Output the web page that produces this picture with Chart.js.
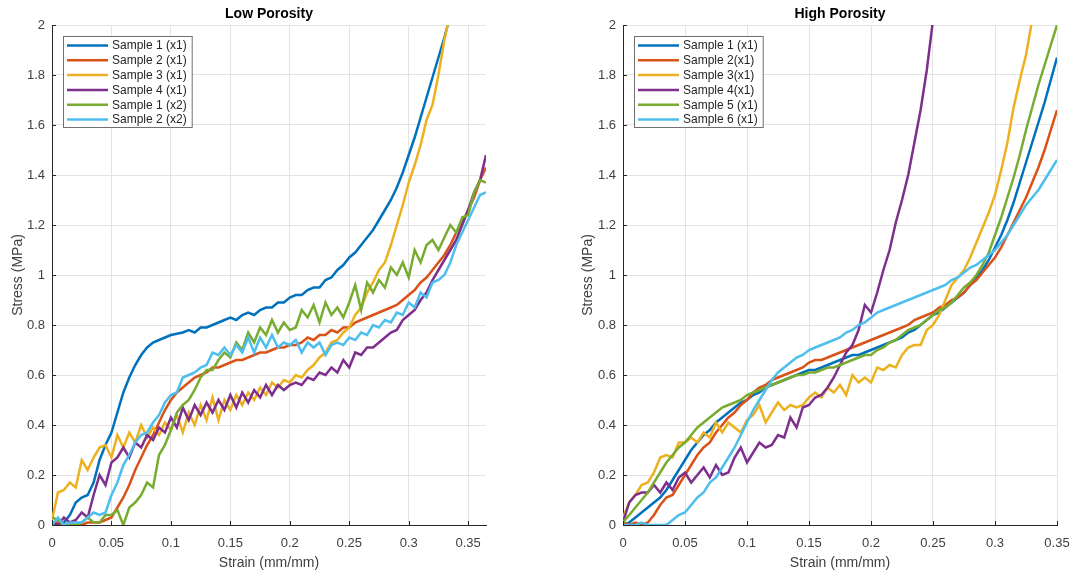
<!DOCTYPE html>
<html>
<head>
<meta charset="utf-8">
<script src="https://cdn.jsdelivr.net/npm/chart.js@4.4.1/dist/chart.umd.min.js"></script>
<style>
  body { margin: 0; background: #fff; }
  #wrap { position: relative; width: 1073px; height: 572px; }
  canvas { position: absolute; top: 0; }
</style>
</head>
<body>
<div id="wrap">
  <canvas id="lowChart" width="540" height="572" style="left:0px"></canvas>
  <canvas id="highChart" width="533" height="572" style="left:540px"></canvas>
</div>
<script>
// Strain values (mm/mm) shared by the series of each panel
const lowStrain = [0, 0.005, 0.01, 0.015, 0.02, 0.025, 0.03, 0.035, 0.04, 0.045,
  0.05, 0.055, 0.06, 0.065, 0.07, 0.075, 0.08, 0.085, 0.09, 0.095,
  0.1, 0.105, 0.11, 0.115, 0.12, 0.125, 0.13, 0.135, 0.14, 0.145,
  0.15, 0.155, 0.16, 0.165, 0.17, 0.175, 0.18, 0.185, 0.19, 0.195,
  0.2, 0.205, 0.21, 0.215, 0.22, 0.225, 0.23, 0.235, 0.24, 0.245,
  0.25, 0.255, 0.26, 0.265, 0.27, 0.275, 0.28, 0.285, 0.29, 0.295,
  0.3, 0.305, 0.31, 0.315, 0.32, 0.325, 0.33, 0.335, 0.34, 0.345,
  0.35, 0.355, 0.36, 0.365];
const highStrain = [0, 0.005, 0.01, 0.015, 0.02, 0.025, 0.03, 0.035, 0.04, 0.045,
  0.05, 0.055, 0.06, 0.065, 0.07, 0.075, 0.08, 0.085, 0.09, 0.095,
  0.1, 0.105, 0.11, 0.115, 0.12, 0.125, 0.13, 0.135, 0.14, 0.145,
  0.15, 0.155, 0.16, 0.165, 0.17, 0.175, 0.18, 0.185, 0.19, 0.195,
  0.2, 0.205, 0.21, 0.215, 0.22, 0.225, 0.23, 0.235, 0.24, 0.245,
  0.25, 0.255, 0.26, 0.265, 0.27, 0.275, 0.28, 0.285, 0.29, 0.295,
  0.3, 0.305, 0.31, 0.315, 0.32, 0.325, 0.33, 0.335, 0.34, 0.345,
  0.35];

// Stress (MPa) — Low porosity
const lowS1x1 = [0.00, 0.00, 0.01, 0.04, 0.09, 0.11, 0.12, 0.17, 0.26, 0.32,
  0.37, 0.45, 0.53, 0.59, 0.64, 0.68, 0.71, 0.73, 0.74, 0.75,
  0.76, 0.765, 0.77, 0.78, 0.77, 0.79, 0.79, 0.80, 0.81, 0.82,
  0.83, 0.82, 0.84, 0.85, 0.84, 0.86, 0.87, 0.87, 0.89, 0.89,
  0.91, 0.92, 0.92, 0.94, 0.95, 0.95, 0.98, 0.99, 1.02, 1.04,
  1.07, 1.09, 1.12, 1.15, 1.18, 1.22, 1.26, 1.30, 1.35, 1.41,
  1.48, 1.55, 1.63, 1.71, 1.79, 1.87, 1.95, 2.04];
const lowS2x1 = [0.01, 0.01, 0.00, 0.01, 0.01, 0.00, 0.01, 0.01, 0.01, 0.02,
  0.03, 0.07, 0.11, 0.16, 0.22, 0.27, 0.32, 0.36, 0.41, 0.46,
  0.50, 0.53, 0.55, 0.57, 0.59, 0.60, 0.61, 0.63, 0.63, 0.64,
  0.65, 0.66, 0.66, 0.67, 0.68, 0.69, 0.69, 0.70, 0.71, 0.71,
  0.72, 0.72, 0.73, 0.75, 0.74, 0.76, 0.76, 0.78, 0.77, 0.79,
  0.79, 0.81, 0.82, 0.83, 0.84, 0.85, 0.86, 0.87, 0.88, 0.90,
  0.92, 0.94, 0.97, 0.99, 1.02, 1.05, 1.08, 1.12, 1.17, 1.21,
  1.26, 1.31, 1.38, 1.43];
const lowS3x1 = [0.02, 0.13, 0.14, 0.17, 0.15, 0.26, 0.22, 0.27, 0.31, 0.32,
  0.27, 0.36, 0.31, 0.37, 0.33, 0.40, 0.35, 0.39, 0.36, 0.41,
  0.38, 0.44, 0.37, 0.45, 0.40, 0.48, 0.42, 0.51, 0.42, 0.50,
  0.46, 0.52, 0.48, 0.53, 0.50, 0.55, 0.52, 0.57, 0.55, 0.58,
  0.57, 0.60, 0.59, 0.62, 0.64, 0.67, 0.69, 0.73, 0.74, 0.77,
  0.79, 0.84, 0.87, 0.93, 0.97, 1.02, 1.05, 1.12, 1.20, 1.28,
  1.37, 1.44, 1.52, 1.62, 1.68, 1.80, 1.94, 2.05];
const lowS4x1 = [0.01, 0.00, 0.03, 0.01, 0.02, 0.05, 0.03, 0.12, 0.20, 0.16,
  0.25, 0.27, 0.31, 0.27, 0.33, 0.31, 0.36, 0.34, 0.39, 0.37,
  0.43, 0.39, 0.47, 0.42, 0.48, 0.44, 0.49, 0.45, 0.50, 0.46,
  0.52, 0.47, 0.53, 0.49, 0.54, 0.51, 0.56, 0.52, 0.56, 0.54,
  0.56, 0.57, 0.56, 0.59, 0.58, 0.61, 0.60, 0.63, 0.61, 0.66,
  0.63, 0.69, 0.68, 0.71, 0.71, 0.73, 0.75, 0.77, 0.78, 0.82,
  0.84, 0.86, 0.90, 0.93, 0.98, 1.02, 1.06, 1.10, 1.14, 1.20,
  1.26, 1.33, 1.38, 1.48];
const lowS1x2 = [0.03, 0.02, 0.00, 0.00, 0.00, 0.01, 0.03, 0.01, 0.01, 0.04,
  0.04, 0.06, 0.00, 0.07, 0.09, 0.12, 0.17, 0.15, 0.28, 0.32,
  0.38, 0.45, 0.48, 0.50, 0.54, 0.59, 0.62, 0.62, 0.66, 0.69,
  0.67, 0.73, 0.70, 0.77, 0.73, 0.79, 0.76, 0.82, 0.77, 0.81,
  0.78, 0.79, 0.86, 0.83, 0.88, 0.81, 0.89, 0.84, 0.87, 0.83,
  0.89, 0.96, 0.86, 0.97, 0.93, 0.98, 0.95, 1.03, 1.00, 1.05,
  0.99, 1.10, 1.05, 1.12, 1.14, 1.10, 1.15, 1.20, 1.17, 1.23,
  1.24, 1.33, 1.38, 1.37];
const lowS2x2 = [0.00, 0.03, 0.00, 0.01, 0.01, 0.01, 0.03, 0.05, 0.04, 0.05,
  0.12, 0.17, 0.24, 0.28, 0.33, 0.36, 0.37, 0.41, 0.44, 0.49,
  0.52, 0.53, 0.59, 0.60, 0.61, 0.63, 0.64, 0.69, 0.68, 0.71,
  0.68, 0.72, 0.69, 0.75, 0.69, 0.75, 0.71, 0.76, 0.71, 0.73,
  0.72, 0.74, 0.69, 0.73, 0.71, 0.73, 0.68, 0.72, 0.73, 0.72,
  0.75, 0.74, 0.77, 0.76, 0.80, 0.79, 0.82, 0.81, 0.85, 0.84,
  0.89, 0.87, 0.93, 0.91, 0.97, 0.98, 1.00, 1.05, 1.12, 1.17,
  1.22, 1.27, 1.32, 1.33];

// Stress (MPa) — High porosity
const highS1 = [0.00, 0.01, 0.03, 0.05, 0.07, 0.09, 0.11, 0.14, 0.18, 0.22,
  0.26, 0.30, 0.33, 0.36, 0.38, 0.41, 0.43, 0.45, 0.47, 0.49,
  0.50, 0.52, 0.53, 0.55, 0.56, 0.57, 0.58, 0.59, 0.60, 0.61,
  0.62, 0.62, 0.63, 0.64, 0.65, 0.66, 0.67, 0.68, 0.68, 0.69,
  0.70, 0.71, 0.72, 0.73, 0.74, 0.75, 0.77, 0.78, 0.80, 0.82,
  0.84, 0.85, 0.87, 0.89, 0.91, 0.93, 0.96, 0.99, 1.02, 1.06,
  1.11, 1.16, 1.22, 1.29, 1.37, 1.45, 1.53, 1.61, 1.69, 1.78,
  1.87];
const highS2 = [0.01, 0.00, 0.01, 0.00, 0.01, 0.04, 0.08, 0.11, 0.12, 0.16,
  0.20, 0.24, 0.28, 0.31, 0.33, 0.37, 0.40, 0.43, 0.45, 0.48,
  0.50, 0.53, 0.55, 0.56, 0.58, 0.59, 0.60, 0.61, 0.62, 0.63,
  0.65, 0.66, 0.66, 0.67, 0.68, 0.69, 0.70, 0.71, 0.72, 0.73,
  0.74, 0.75, 0.76, 0.77, 0.78, 0.79, 0.80, 0.82, 0.83, 0.84,
  0.85, 0.87, 0.88, 0.90, 0.91, 0.93, 0.96, 0.98, 1.01, 1.04,
  1.07, 1.11, 1.16, 1.21, 1.26, 1.31, 1.37, 1.43, 1.50, 1.58,
  1.66];
const highS3 = [0.03, 0.09, 0.12, 0.16, 0.17, 0.21, 0.27, 0.28, 0.27, 0.33,
  0.33, 0.35, 0.33, 0.37, 0.35, 0.41, 0.37, 0.41, 0.39, 0.37,
  0.42, 0.44, 0.48, 0.41, 0.45, 0.49, 0.46, 0.48, 0.47, 0.48,
  0.51, 0.53, 0.51, 0.55, 0.53, 0.56, 0.52, 0.60, 0.57, 0.59,
  0.57, 0.63, 0.62, 0.64, 0.63, 0.68, 0.71, 0.72, 0.72, 0.78,
  0.80, 0.84, 0.90, 0.96, 0.99, 1.02, 1.07, 1.13, 1.19, 1.25,
  1.32, 1.42, 1.53, 1.67, 1.78, 1.88, 2.02];
const highS4 = [0.01, 0.09, 0.12, 0.13, 0.13, 0.16, 0.13, 0.17, 0.14, 0.19,
  0.21, 0.17, 0.20, 0.23, 0.19, 0.24, 0.20, 0.21, 0.27, 0.31,
  0.25, 0.29, 0.33, 0.31, 0.32, 0.36, 0.35, 0.43, 0.39, 0.47,
  0.48, 0.51, 0.52, 0.55, 0.59, 0.64, 0.69, 0.72, 0.78, 0.88,
  0.85, 0.93, 1.02, 1.10, 1.21, 1.30, 1.40, 1.53, 1.66, 1.82,
  2.02];
const highS5 = [0.01, 0.04, 0.07, 0.10, 0.13, 0.17, 0.21, 0.25, 0.28, 0.31,
  0.33, 0.36, 0.39, 0.41, 0.43, 0.45, 0.47, 0.48, 0.49, 0.50,
  0.52, 0.53, 0.54, 0.55, 0.56, 0.57, 0.58, 0.59, 0.60, 0.60,
  0.61, 0.61, 0.62, 0.63, 0.63, 0.64, 0.65, 0.66, 0.67, 0.68,
  0.68, 0.70, 0.71, 0.73, 0.74, 0.76, 0.78, 0.79, 0.80, 0.82,
  0.84, 0.86, 0.87, 0.89, 0.92, 0.95, 0.97, 1.00, 1.04, 1.09,
  1.16, 1.23, 1.31, 1.39, 1.48, 1.58, 1.67, 1.76, 1.84, 1.92,
  2.00];
const highS6 = [0.00, 0.00, 0.00, 0.01, 0.00, 0.00, 0.00, 0.00, 0.02, 0.04,
  0.05, 0.08, 0.11, 0.13, 0.17, 0.19, 0.23, 0.27, 0.31, 0.36,
  0.41, 0.46, 0.50, 0.54, 0.58, 0.61, 0.63, 0.65, 0.67, 0.68,
  0.70, 0.71, 0.72, 0.73, 0.74, 0.75, 0.77, 0.78, 0.80, 0.81,
  0.83, 0.85, 0.86, 0.87, 0.88, 0.89, 0.90, 0.91, 0.92, 0.93,
  0.94, 0.95, 0.96, 0.98, 0.99, 1.01, 1.03, 1.04, 1.06, 1.08,
  1.10, 1.13, 1.16, 1.20, 1.24, 1.28, 1.31, 1.34, 1.38, 1.42,
  1.46];

const lowLabels = ['Sample 1 (x1)', 'Sample 2 (x1)', 'Sample 3 (x1)', 'Sample 4 (x1)', 'Sample 1 (x2)', 'Sample 2 (x2)'];
const highLabels = ['Sample 1 (x1)', 'Sample 2(x1)', 'Sample 3(x1)', 'Sample 4(x1)', 'Sample 5 (x1)', 'Sample 6 (x1)'];
const colores = ['#0072BD', '#D95319', '#EDB120', '#7E2F8E', '#77AC30', '#4DBEEE'];

const FONTE = '"Liberation Sans", Arial, Helvetica, sans-serif';

// titulo centrado sobre a area do grafico
const tituloPainel = {
  id: 'tituloPainel',
  afterDraw(chart, args, opts) {
    const { ctx, chartArea } = chart;
    ctx.save();
    ctx.font = 'bold 14px ' + FONTE;
    ctx.fillStyle = '#000';
    ctx.textAlign = 'center';
    ctx.textBaseline = 'middle';
    ctx.fillText(opts.text, (chartArea.left + chartArea.right) / 2, 14);
    ctx.restore();
  }
};

// marcas de escala para dentro, como no MATLAB
const marcasInternas = {
  id: 'marcasInternas',
  afterDraw(chart) {
    const { ctx, chartArea, scales } = chart;
    ctx.save();
    ctx.strokeStyle = '#262626';
    ctx.lineWidth = 1;
    ctx.beginPath();
    scales.x.ticks.forEach(t => {
      const px = Math.round(scales.x.getPixelForValue(t.value)) + 0.5;
      ctx.moveTo(px, chartArea.bottom);
      ctx.lineTo(px, chartArea.bottom - 4);
    });
    scales.y.ticks.forEach(t => {
      const py = Math.round(scales.y.getPixelForValue(t.value)) + 0.5;
      ctx.moveTo(chartArea.left, py);
      ctx.lineTo(chartArea.left + 4, py);
    });
    ctx.stroke();
    ctx.restore();
  }
};

// legenda em caixa no canto superior esquerdo (estilo MATLAB)
const legendaCaixa = {
  id: 'legendaCaixa',
  afterDatasetsDraw(chart) {
    const { ctx, chartArea } = chart;
    const sets = chart.data.datasets;
    ctx.save();
    ctx.font = '12px ' + FONTE;
    const larguraTexto = Math.max(...sets.map(d => ctx.measureText(d.label).width));
    const x0 = Math.round(chartArea.left + 11), y0 = Math.round(chartArea.top + 11);
    const w = 49 + larguraTexto + 5, h = 91;
    ctx.fillStyle = '#fff';
    ctx.fillRect(x0, y0, w, h);
    ctx.strokeStyle = '#707070';
    ctx.lineWidth = 1;
    ctx.strokeRect(x0 + 0.5, y0 + 0.5, w, h);
    sets.forEach((d, i) => {
      const y = y0 + 9.5 + i * 14.8;
      ctx.strokeStyle = d.borderColor;
      ctx.lineWidth = 2.5;
      ctx.beginPath();
      ctx.moveTo(x0 + 4, y);
      ctx.lineTo(x0 + 45, y);
      ctx.stroke();
      ctx.fillStyle = '#262626';
      ctx.textBaseline = 'middle';
      ctx.fillText(d.label, x0 + 49, y + 0.5);
    });
    ctx.restore();
  }
};

function montarSeries(strain, series, labels) {
  return series.map((ys, i) => ({
    label: labels[i],
    data: ys.map((y, k) => ({ x: strain[k], y })),
    borderColor: colores[i],
    backgroundColor: colores[i],
    borderWidth: 2.5,
    pointRadius: 0,
    tension: 0,
    order: series.length - i
  }));
}

function formatarTick(v) {
  return String(Number(v.toFixed(2)));
}

function montarOpcoes(titulo, xMax, larguraY, padTituloY, padDireita) {
  return {
    responsive: false,
    animation: false,
    layout: { padding: { top: 25, right: padDireita, bottom: 0, left: 0 } },
    plugins: {
      legend: { display: false },
      tooltip: { enabled: false },
      tituloPainel: { text: titulo }
    },
    scales: {
      x: {
        type: 'linear', min: 0, max: xMax,
        afterFit: s => { s.height = 47; },
        border: { color: '#262626', width: 1 },
        // marcas externas invisiveis: so empurram os rotulos para baixo
        grid: { color: '#e3e3e3', drawTicks: true, tickLength: 8, tickColor: 'rgba(0,0,0,0)' },
        ticks: { stepSize: 0.05, includeBounds: false, padding: 3, color: '#404040',
                 font: { family: FONTE, size: 13 }, callback: formatarTick, maxRotation: 0 },
        title: { display: true, text: 'Strain (mm/mm)', color: '#404040',
                 font: { family: FONTE, size: 14 }, padding: { top: 0, bottom: 0 } }
      },
      y: {
        type: 'linear', min: 0, max: 2,
        afterFit: s => { s.width = larguraY; },
        border: { color: '#262626', width: 1 },
        grid: { color: '#e3e3e3', drawTicks: false },
        ticks: { stepSize: 0.2, padding: 7, color: '#404040',
                 font: { family: FONTE, size: 13 }, callback: formatarTick },
        title: { display: true, text: 'Stress (MPa)', color: '#404040',
                 font: { family: FONTE, size: 14 }, padding: { top: padTituloY, bottom: 0 } }
      }
    }
  };
}

new Chart(document.getElementById('lowChart'), {
  type: 'line',
  data: { datasets: montarSeries(lowStrain, [lowS1x1, lowS2x1, lowS3x1, lowS4x1, lowS1x2, lowS2x2], lowLabels) },
  options: montarOpcoes('Low Porosity', 0.365, 52, 10, 54),
  plugins: [tituloPainel, marcasInternas, legendaCaixa]
});

new Chart(document.getElementById('highChart'), {
  type: 'line',
  data: { datasets: montarSeries(highStrain, [highS1, highS2, highS3, highS4, highS5, highS6], highLabels) },
  options: montarOpcoes('High Porosity', 0.35, 83, 40, 16),
  plugins: [tituloPainel, marcasInternas, legendaCaixa]
});
</script>
</body>
</html>
